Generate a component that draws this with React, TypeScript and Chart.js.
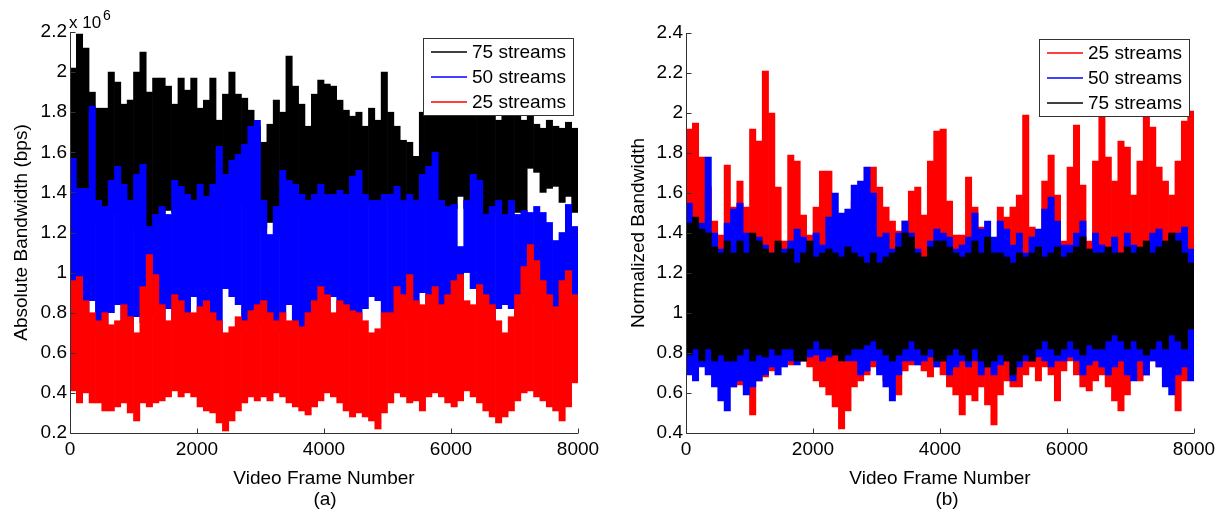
import React, { useEffect, useRef } from 'react';
import { Chart, registerables } from 'chart.js';

Chart.register(...registerables);

const FONT = "'Liberation Sans', Arial, Helvetica, sans-serif";
const AXIS = '#333333';

// x categories: centre frame of each 100-frame bin (0..8000)
const FRAME_BINS: number[] = Array.from({ length: 80 }, (_, i) => i * 100 + 50);
const X_TICKS = [0, 2000, 4000, 6000, 8000];
const Y_TICKS_A = [0.2, 0.4, 0.6, 0.8, 1, 1.2, 1.4, 1.6, 1.8, 2, 2.2];
const Y_TICKS_B = [0.4, 0.6, 0.8, 1, 1.2, 1.4, 1.6, 1.8, 2, 2.2, 2.4];

// ---- Panel (a): absolute bandwidth (x 10^6 bps), per-bin max / min ----
const A75_HI = [2.02,2.19,2.12,1.90,1.82,1.82,2.00,1.95,1.84,1.86,
  2.00,2.10,1.90,1.97,1.97,1.93,1.84,1.97,1.91,1.97,
  1.82,1.86,1.97,1.76,1.89,2.00,1.89,1.87,1.81,1.73,
  1.65,1.74,1.86,1.80,2.08,1.93,1.84,1.73,1.89,1.96,
  1.94,1.93,1.86,1.81,1.78,1.80,1.73,1.82,1.76,2.00,
  1.80,1.73,1.66,1.65,1.58,1.80,1.78,1.78,1.85,1.80,
  1.84,1.82,1.86,1.80,1.83,1.85,1.80,1.76,1.82,1.78,
  1.80,1.76,1.78,1.74,1.72,1.76,1.73,1.72,1.75,1.72];
const A75_LO = [1.30,1.28,1.22,1.30,1.25,1.26,1.32,1.30,1.26,1.22,
  1.28,1.30,1.11,1.20,1.25,1.31,1.30,1.30,1.28,1.30,
  1.30,1.28,1.30,1.35,1.34,1.36,1.34,1.36,1.36,1.34,
  1.22,1.25,1.18,1.30,1.33,1.44,1.30,1.28,1.28,1.30,
  1.30,1.32,1.30,1.34,1.36,1.36,1.36,1.34,1.34,1.36,
  1.36,1.34,1.35,1.36,1.35,1.42,1.42,1.36,1.32,1.32,
  1.32,1.38,1.32,1.40,1.38,1.26,1.30,1.32,1.28,1.34,
  1.30,1.30,1.52,1.50,1.40,1.42,1.43,1.35,1.38,1.30];
const A50_HI = [1.57,1.42,1.42,1.83,1.36,1.33,1.46,1.53,1.44,1.36,
  1.49,1.54,1.23,1.29,1.33,1.29,1.46,1.43,1.39,1.36,
  1.44,1.38,1.44,1.63,1.49,1.56,1.59,1.64,1.73,1.76,
  1.36,1.19,1.33,1.51,1.46,1.44,1.39,1.36,1.39,1.44,
  1.39,1.39,1.41,1.39,1.48,1.51,1.39,1.36,1.36,1.39,
  1.39,1.43,1.36,1.39,1.36,1.49,1.53,1.60,1.36,1.33,
  1.34,1.13,1.36,1.49,1.46,1.29,1.33,1.36,1.29,1.36,
  1.29,1.31,1.30,1.33,1.30,1.25,1.16,1.20,1.34,1.23];
const A50_LO = [0.70,0.70,0.72,0.86,0.68,0.70,0.80,0.84,0.72,0.70,
  0.78,0.75,0.80,0.78,0.72,0.82,0.75,0.74,0.72,0.88,
  0.74,0.74,0.72,0.70,0.92,0.88,0.84,0.70,0.72,0.74,
  0.74,0.72,0.70,0.74,0.84,0.72,0.70,0.72,0.74,0.80,
  0.76,0.88,0.74,0.74,0.72,0.72,0.82,0.88,0.86,0.72,
  0.72,0.78,0.76,0.80,0.75,0.90,0.78,0.80,0.74,0.76,
  0.80,0.82,1.00,0.92,0.80,0.78,0.74,0.82,0.84,0.82,
  0.76,0.80,0.85,0.86,0.80,0.78,0.76,0.80,0.82,0.78];
const A25_HI = [0.96,0.98,0.86,0.80,0.76,0.80,0.74,0.76,0.84,0.78,
  0.70,0.93,1.09,0.99,0.84,0.76,0.89,0.86,0.80,0.80,
  0.83,0.86,0.80,0.76,0.70,0.73,0.78,0.76,0.81,0.84,
  0.86,0.80,0.76,0.80,0.76,0.76,0.73,0.80,0.86,0.93,
  0.89,0.80,0.86,0.84,0.81,0.80,0.76,0.70,0.72,0.80,
  0.80,0.93,0.89,0.99,0.86,0.84,0.89,0.93,0.84,0.89,
  0.96,0.99,0.86,0.84,0.94,0.89,0.84,0.76,0.70,0.78,
  0.89,1.03,1.14,1.06,0.96,0.89,0.83,0.96,1.01,0.89];
const A25_LO = [0.41,0.35,0.40,0.35,0.35,0.31,0.31,0.33,0.35,0.30,
  0.26,0.35,0.33,0.35,0.36,0.38,0.41,0.38,0.40,0.38,
  0.33,0.31,0.30,0.25,0.21,0.26,0.31,0.35,0.38,0.36,
  0.38,0.36,0.40,0.38,0.35,0.33,0.31,0.29,0.33,0.36,
  0.40,0.38,0.35,0.31,0.28,0.30,0.28,0.26,0.22,0.30,
  0.35,0.40,0.38,0.35,0.36,0.31,0.38,0.40,0.38,0.35,
  0.33,0.36,0.41,0.38,0.35,0.31,0.28,0.25,0.28,0.31,
  0.36,0.40,0.41,0.38,0.36,0.33,0.31,0.26,0.33,0.45];

// ---- Panel (b): normalized bandwidth, per-bin max / min ----
const B25_HI = [1.92,1.95,1.78,1.63,1.46,1.39,1.74,1.53,1.66,1.53,
  1.92,1.86,2.21,2.00,1.63,1.36,1.79,1.76,1.49,1.39,
  1.53,1.71,1.71,1.49,1.42,1.49,1.56,1.46,1.63,1.73,
  1.63,1.53,1.46,1.41,1.46,1.61,1.63,1.49,1.76,1.91,
  1.92,1.56,1.39,1.39,1.68,1.53,1.43,1.29,1.33,1.53,
  1.48,1.53,1.59,1.99,1.43,1.39,1.66,1.79,1.59,1.36,
  1.73,1.94,1.64,1.36,1.76,1.98,1.78,1.66,1.86,1.83,
  1.59,1.76,1.98,1.93,1.73,1.66,1.59,1.76,1.96,2.01];
const B25_LO = [0.76,0.76,0.79,0.73,0.69,0.66,0.69,0.63,0.64,0.63,
  0.49,0.66,0.68,0.71,0.76,0.76,0.74,0.76,0.76,0.73,
  0.66,0.63,0.59,0.53,0.42,0.51,0.63,0.66,0.69,0.73,
  0.71,0.66,0.63,0.59,0.71,0.74,0.76,0.71,0.68,0.73,
  0.69,0.63,0.59,0.49,0.59,0.56,0.63,0.54,0.44,0.59,
  0.66,0.63,0.63,0.69,0.73,0.66,0.73,0.69,0.56,0.71,
  0.76,0.69,0.63,0.61,0.66,0.69,0.63,0.56,0.51,0.59,
  0.68,0.66,0.69,0.76,0.73,0.68,0.63,0.51,0.66,0.69];
const B50_HI = [1.55,1.42,1.45,1.78,1.40,1.32,1.45,1.52,1.55,1.40,
  1.36,1.38,1.34,1.30,1.33,1.32,1.36,1.42,1.38,1.32,
  1.40,1.34,1.48,1.60,1.50,1.52,1.64,1.66,1.73,1.60,
  1.38,1.40,1.32,1.40,1.46,1.40,1.32,1.28,1.36,1.42,
  1.40,1.38,1.32,1.34,1.38,1.50,1.42,1.46,1.38,1.46,
  1.42,1.34,1.40,1.30,1.38,1.42,1.52,1.58,1.46,1.34,
  1.34,1.40,1.46,1.30,1.40,1.34,1.32,1.38,1.30,1.40,
  1.34,1.32,1.30,1.40,1.42,1.32,1.38,1.40,1.43,1.32];
const B50_LO = [0.69,0.66,0.73,0.69,0.63,0.56,0.51,0.63,0.66,0.59,
  0.63,0.66,0.69,0.73,0.69,0.73,0.76,0.74,0.76,0.78,
  0.79,0.76,0.78,0.79,0.78,0.76,0.76,0.69,0.71,0.76,
  0.69,0.63,0.56,0.69,0.76,0.76,0.74,0.76,0.78,0.73,
  0.76,0.69,0.73,0.76,0.73,0.76,0.69,0.73,0.69,0.74,
  0.76,0.66,0.73,0.76,0.76,0.78,0.76,0.73,0.76,0.76,
  0.78,0.76,0.69,0.74,0.76,0.73,0.69,0.73,0.76,0.69,
  0.66,0.76,0.69,0.76,0.73,0.63,0.59,0.69,0.73,0.66];
const B75_HI = [1.45,1.48,1.42,1.40,1.33,1.30,1.36,1.30,1.36,1.30,
  1.40,1.36,1.32,1.30,1.36,1.30,1.32,1.25,1.30,1.36,
  1.28,1.30,1.32,1.30,1.28,1.33,1.30,1.28,1.25,1.30,
  1.25,1.28,1.30,1.33,1.40,1.38,1.30,1.28,1.33,1.36,
  1.36,1.33,1.30,1.28,1.30,1.36,1.30,1.38,1.30,1.30,
  1.28,1.25,1.30,1.28,1.30,1.33,1.28,1.30,1.33,1.28,
  1.30,1.33,1.38,1.32,1.30,1.30,1.33,1.30,1.30,1.33,
  1.30,1.33,1.36,1.30,1.33,1.36,1.40,1.36,1.30,1.25];
const B75_LO = [0.79,0.82,0.76,0.82,0.76,0.79,0.76,0.76,0.79,0.82,
  0.76,0.79,0.78,0.82,0.79,0.82,0.82,0.76,0.76,0.82,
  0.86,0.82,0.82,0.79,0.76,0.79,0.82,0.82,0.84,0.86,
  0.82,0.79,0.76,0.79,0.82,0.86,0.82,0.79,0.82,0.76,
  0.76,0.79,0.82,0.79,0.76,0.82,0.76,0.73,0.76,0.79,
  0.76,0.69,0.76,0.79,0.76,0.82,0.86,0.82,0.79,0.82,
  0.86,0.82,0.79,0.84,0.82,0.82,0.86,0.89,0.86,0.82,
  0.86,0.82,0.79,0.82,0.86,0.82,0.89,0.86,0.82,0.92];

const RED = '#ff0000';
const BLUE = '#0000ff';
const BLACK = '#000000';

type Series = { label: string; color: string; hi: number[]; lo: number[]; order: number };

const decorPlugin = {
  id: 'decor',
  afterDatasetsDraw(chart: any, _args: any, opts: any) {
    const { ctx, chartArea: a, scales } = chart;
    ctx.save();
    ctx.strokeStyle = AXIS;
    ctx.lineWidth = 1;
    ctx.beginPath();
    const L = Math.round(a.left) + 0.5;
    const B = Math.round(a.bottom) + 0.5;
    ctx.moveTo(L, a.top);
    ctx.lineTo(L, B);
    ctx.lineTo(a.right, B);
    scales.x.ticks.forEach((t: any) => {
      const px = Math.round(scales.x.getPixelForValue(t.value)) + 0.5;
      ctx.moveTo(px, B);
      ctx.lineTo(px, B - 5);
    });
    scales.y.ticks.forEach((t: any) => {
      const py = Math.round(scales.y.getPixelForValue(t.value)) + 0.5;
      ctx.moveTo(L, py);
      ctx.lineTo(L + 5, py);
    });
    ctx.stroke();

    const bw = 150, bh = 77;
    const bx = Math.round(a.right) - 155;
    const by = Math.round(a.top) + 6;
    ctx.fillStyle = '#ffffff';
    ctx.fillRect(bx, by, bw, bh);
    ctx.strokeStyle = AXIS;
    ctx.lineWidth = 1;
    ctx.strokeRect(bx + 0.5, by + 0.5, bw, bh);
    (opts.entries || []).forEach((e: any, i: number) => {
      const y = by + 14 + i * 25;
      ctx.strokeStyle = e.color;
      ctx.lineWidth = 1.5;
      ctx.beginPath();
      ctx.moveTo(bx + 8, y);
      ctx.lineTo(bx + 44, y);
      ctx.stroke();
      ctx.fillStyle = '#000';
      ctx.font = `19px ${FONT}`;
      ctx.textAlign = 'left';
      ctx.textBaseline = 'middle';
      ctx.fillText(e.label, bx + 49, y + 1);
    });

    ctx.fillStyle = '#000';
    ctx.font = `19px ${FONT}`;
    ctx.textAlign = 'center';
    ctx.textBaseline = 'middle';
    ctx.fillText(opts.caption, opts.captionX, 500);

    if (opts.exponent) {
      ctx.textAlign = 'left';
      ctx.textBaseline = 'alphabetic';
      ctx.font = `17px ${FONT}`;
      ctx.fillText('x 10', a.left - 1, a.top - 4);
      ctx.font = `14px ${FONT}`;
      ctx.fillText(opts.exponent, a.left + 33, a.top - 12);
    }
    ctx.restore();
  },
};

type PanelCfg = {
  series: Series[];
  yMin: number;
  yMax: number;
  yTicks: number[];
  yTitle: string;
  yAxisWidth: number;
  yTitlePad: number;
  padRight: number;
  padTop: number;
  caption: string;
  captionX: number;
  exponent: string | null;
  legendOrder: Series[];
};

function Panel({ x, w, cfg }: { x: number; w: number; cfg: PanelCfg }) {
  const ref = useRef<HTMLCanvasElement | null>(null);
  useEffect(() => {
    if (!ref.current) return;
    const font = { family: FONT, size: 19 };
    const chart = new Chart(ref.current, {
      type: 'bar',
      data: {
        datasets: cfg.series.map((s) => ({
          label: s.label,
          data: FRAME_BINS.map((f, i) => ({ x: f, y: [s.lo[i], s.hi[i]] })),
          backgroundColor: s.color,
          borderWidth: 0,
          grouped: false,
          barPercentage: 1,
          categoryPercentage: 1,
          order: s.order,
        })) as any,
      },
      options: {
        responsive: false,
        animation: false,
        events: [],
        layout: { padding: { left: 0, right: cfg.padRight, top: cfg.padTop, bottom: 0 } },
        scales: {
          x: {
            type: 'linear',
            min: 0,
            max: 8000,
            offset: false,
            grid: { display: false, drawTicks: false },
            border: { display: false },
            afterBuildTicks: (s: any) => { s.ticks = X_TICKS.map((v) => ({ value: v })); },
            afterFit: (s: any) => { s.height = 87; },
            ticks: { padding: 5, font, color: '#000', maxRotation: 0, autoSkip: false, callback: (v: any) => String(v) },
            title: { display: true, text: 'Video Frame Number', font, color: '#000', padding: { top: 4, bottom: 30 } },
          },
          y: {
            type: 'linear',
            min: cfg.yMin,
            max: cfg.yMax,
            grid: { display: false, drawTicks: false },
            border: { display: false },
            afterBuildTicks: (s: any) => { s.ticks = cfg.yTicks.map((v) => ({ value: v })); },
            afterFit: (s: any) => { s.width = cfg.yAxisWidth; },
            ticks: { padding: 3, font, color: '#000', autoSkip: false, callback: (v: any) => String(v) },
            title: { display: true, text: cfg.yTitle, font, color: '#000', padding: { top: cfg.yTitlePad, bottom: 0 } },
          },
        },
        plugins: {
          legend: { display: false },
          tooltip: { enabled: false },
          decor: {
            entries: cfg.legendOrder.map((s) => ({ label: s.label, color: s.color })),
            caption: cfg.caption,
            captionX: cfg.captionX,
            exponent: cfg.exponent,
          },
        } as any,
      },
      plugins: [decorPlugin],
    });
    return () => chart.destroy();
  }, [cfg]);
  return (
    <canvas
      ref={ref}
      width={w}
      height={520}
      style={{ position: 'absolute', left: x, top: 0, width: w, height: 520 }}
    />
  );
}

const S_A75: Series = { label: '75 streams', color: BLACK, hi: A75_HI, lo: A75_LO, order: 3 };
const S_A50: Series = { label: '50 streams', color: BLUE, hi: A50_HI, lo: A50_LO, order: 2 };
const S_A25: Series = { label: '25 streams', color: RED, hi: A25_HI, lo: A25_LO, order: 1 };
const S_B25: Series = { label: '25 streams', color: RED, hi: B25_HI, lo: B25_LO, order: 3 };
const S_B50: Series = { label: '50 streams', color: BLUE, hi: B50_HI, lo: B50_LO, order: 2 };
const S_B75: Series = { label: '75 streams', color: BLACK, hi: B75_HI, lo: B75_LO, order: 1 };

const PANEL_A: PanelCfg = {
  series: [S_A25, S_A50, S_A75],
  yMin: 0.2,
  yMax: 2.2,
  yTicks: Y_TICKS_A,
  yTitle: 'Absolute Bandwidth (bps)',
  yAxisWidth: 70,
  yTitlePad: 10,
  padRight: 34,
  padTop: 32,
  caption: '(a)',
  captionX: 325,
  exponent: '6',
  legendOrder: [S_A75, S_A50, S_A25],
};

const PANEL_B: PanelCfg = {
  series: [S_B75, S_B50, S_B25],
  yMin: 0.4,
  yMax: 2.4,
  yTicks: Y_TICKS_B,
  yTitle: 'Normalized Bandwidth',
  yAxisWidth: 74,
  yTitlePad: 15,
  padRight: 29,
  padTop: 33,
  caption: '(b)',
  captionX: 335,
  exponent: null,
  legendOrder: [S_B25, S_B50, S_B75],
};

export default function App() {
  return (
    <div style={{ position: 'fixed', left: 0, top: 0, width: 1223, height: 520, background: '#fff', overflow: 'hidden' }}>
      <Panel x={0} w={612} cfg={PANEL_A} />
      <Panel x={612} w={611} cfg={PANEL_B} />
    </div>
  );
}
